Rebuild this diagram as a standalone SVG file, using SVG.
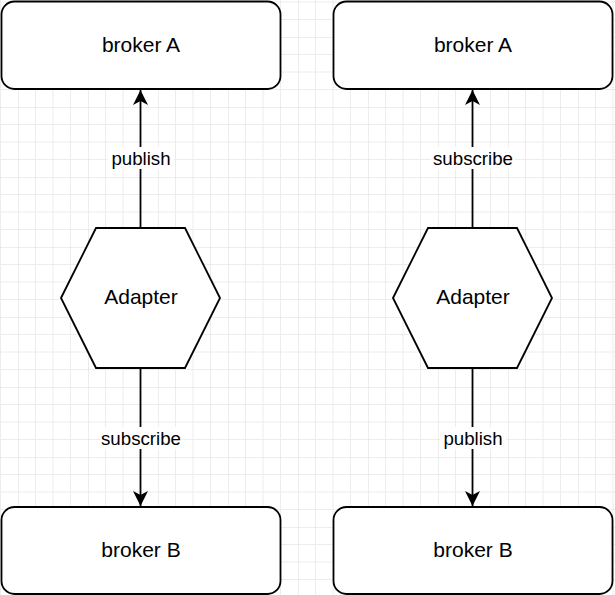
<svg xmlns="http://www.w3.org/2000/svg" width="615" height="595" viewBox="0 0 615 595">
<defs>
<pattern id="grid" patternUnits="userSpaceOnUse" x="18" y="37" width="70" height="70">
<path d="M17.5 0V70M35 0V70M52.5 0V70M0 17.5H70M0 35H70M0 52.5H70" stroke="#ececec" stroke-width="1" fill="none"/>
<path d="M0 0V70M0 0H70" stroke="#dcdcdc" stroke-width="1" fill="none"/>
</pattern>
<marker id="arr" markerUnits="userSpaceOnUse" viewBox="0 0 16 16" refX="15" refY="8" markerWidth="16" markerHeight="16" orient="auto">
<path d="M15 8 L0 0.5 L4 8 L0 15.5 Z" fill="#000"/>
</marker>
</defs>
<style>
.node{fill:#fff;stroke:#000;stroke-width:1.8}
.nt{font-family:"Liberation Sans",Arial,sans-serif;font-size:21px;text-anchor:middle;fill:#000}
.lt{font-family:"Liberation Sans",Arial,sans-serif;font-size:18.7px;text-anchor:middle;fill:#000}
.edge{stroke:#000;stroke-width:1.8;fill:none}
.lbg{fill:#fff}
</style>
<rect width="615" height="595" fill="#fff"/>
<rect width="615" height="595" fill="url(#grid)"/>
<g id="connectors">
<path class="edge" d="M140.5 228V90" marker-end="url(#arr)"/>
<path class="edge" d="M140.5 368V506" marker-end="url(#arr)"/>
<path class="edge" d="M472.5 228V90" marker-end="url(#arr)"/>
<path class="edge" d="M472.5 368V506" marker-end="url(#arr)"/>
<rect class="lbg" x="108" y="147" width="66" height="22"/>
<text class="lt" x="141" y="165">publish</text>
<rect class="lbg" x="100" y="427" width="82" height="22"/>
<text class="lt" x="141" y="445">subscribe</text>
<rect class="lbg" x="431" y="147" width="84" height="22"/>
<text class="lt" x="473" y="165">subscribe</text>
<rect class="lbg" x="440" y="427" width="66" height="22"/>
<text class="lt" x="473" y="445">publish</text>
</g>
<g id="brokerA-left">
<rect class="node" x="1.5" y="1.5" width="279" height="87.5" rx="13"/>
<text class="nt" x="141" y="52">broker A</text>
</g>
<g id="adapter-left">
<polygon class="node" points="61,298 96,228 185,228 220,298 185,368 96,368"/>
<text class="nt" x="141" y="304">Adapter</text>
</g>
<g id="brokerB-left">
<rect class="node" x="1.5" y="507" width="279" height="87" rx="13"/>
<text class="nt" x="141" y="557">broker B</text>
</g>
<g id="brokerA-right">
<rect class="node" x="333.5" y="1.5" width="279" height="87.5" rx="13"/>
<text class="nt" x="473" y="52">broker A</text>
</g>
<g id="adapter-right">
<polygon class="node" points="393,298 428,228 517,228 552,298 517,368 428,368"/>
<text class="nt" x="473" y="304">Adapter</text>
</g>
<g id="brokerB-right">
<rect class="node" x="333.5" y="507" width="279" height="87" rx="13"/>
<text class="nt" x="473" y="557">broker B</text>
</g>
</svg>
